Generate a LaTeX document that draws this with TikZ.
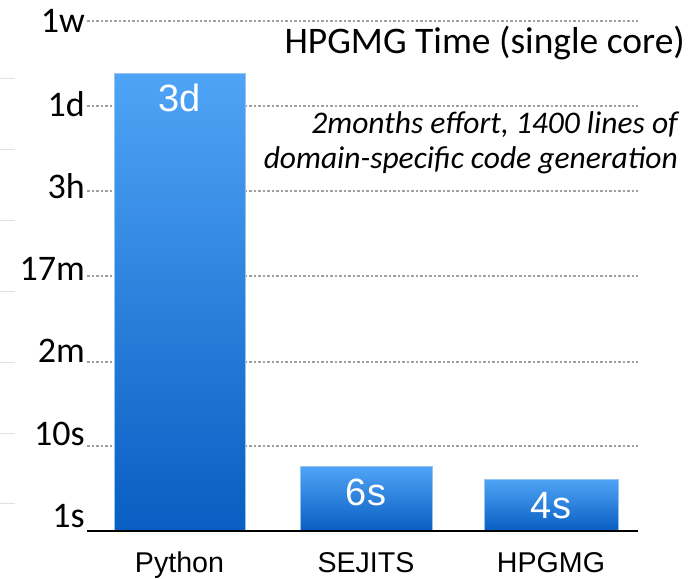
\documentclass[tikz,border=0pt]{standalone}
\usepackage{fontspec}
\setmainfont{Carlito}
\newfontfamily\arialf{Liberation Sans}
\definecolor{barTop}{RGB}{80,164,246}
\definecolor{barBot}{RGB}{8,94,194}
\definecolor{barEdge}{RGB}{150,196,240}
\definecolor{gridc}{RGB}{160,160,160}
\definecolor{faint}{RGB}{225,225,225}
\begin{document}
\begin{tikzpicture}[x=1pt,y=-1pt,
  gridline/.style={draw=gridc, line width=1.3pt, dash pattern=on 2.5pt off 2pt},
  faintline/.style={draw=faint, line width=0.9pt},
  ticklbl/.style={anchor=base east, inner sep=0pt, font=\fontsize{36}{36}\selectfont},
  barbox/.style={top color=barTop, bottom color=barBot, draw=barEdge, line width=0.7pt},
  barlbl/.style={anchor=base, inner sep=0pt, text=white, font=\arialf\fontsize{38}{38}\selectfont},
  catlbl/.style={anchor=base, inner sep=0pt, font=\arialf\fontsize{28.6}{28.6}\selectfont},
  axisline/.style={draw=black, line width=1.6pt}]
\useasboundingbox (0,0) rectangle (698,578);
% faint marks at the left edge
\foreach \yy in {78,149,220,291,362,433,503}
  \draw[faintline] (0,\yy) -- (15,\yy);
% grid lines
\foreach \nm/\yy in {gw/21,gd/106,gh/191,gm/276,gtwo/362,gten/446}{
  \coordinate (\nm a) at (87,\yy);
  \coordinate (\nm b) at (638,\yy);
  \draw[gridline] (\nm a) -- (\nm b);
}
% tick labels
\node[ticklbl] (t1w) at (85,33) {1w};
\node[ticklbl] (t1d) at (85,116) {1d};
\node[ticklbl] (t3h) at (85,198) {3h};
\node[ticklbl] (t17m) at (85,280) {17m};
\node[ticklbl] (t2m) at (85,362) {2m};
\node[ticklbl] (t10s) at (85,445) {10s};
\node[ticklbl] (t1s) at (85,527) {1s};
% bars
\path[barbox] (114,73) rectangle (245,531);
\path[barbox] (300,466) rectangle (432,531);
\path[barbox] (484,479) rectangle (618,531);
% axis
\coordinate (ax0) at (87,531);
\coordinate (ax1) at (638,531);
\draw[axisline] (ax0) -- (ax1);
% bar labels
\node[barlbl] (l3d) at (179.5,111) {3d};
\node[barlbl] (l6s) at (366,505) {6s};
\node[barlbl] (l4s) at (551,518) {4s};
% category labels
\node[catlbl] (cPy) at (179.5,572) {Python};
\node[catlbl] (cSE) at (366,572) {SEJITS};
\node[catlbl] (cHP) at (551,572) {HPGMG};
% title and note
\node[anchor=base east, inner sep=0pt, font=\fontsize{37.5}{37.5}\selectfont] (title) at (685,53) {HPGMG Time (single core)};
\node[anchor=base east, inner sep=0pt, font=\itshape\fontsize{31.5}{31.5}\selectfont] (note1) at (678,133) {2months effort, 1400 lines of};
\node[anchor=base east, inner sep=0pt, font=\itshape\fontsize{31.5}{31.5}\selectfont] (note2) at (678,168) {domain-specific code generation};
\end{tikzpicture}
\end{document}
